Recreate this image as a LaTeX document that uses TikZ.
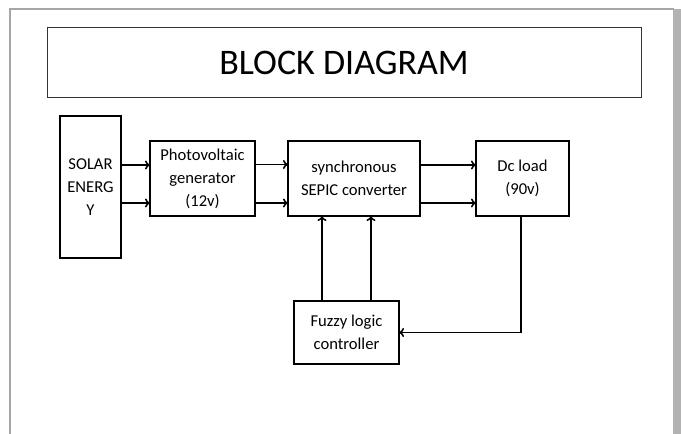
\documentclass[tikz,border=0pt]{standalone}
\usepackage{fontspec}
\setmainfont{Carlito}
\usepackage{tikz}
\usetikzlibrary{positioning, arrows.meta}
\tikzstyle{block} = [rectangle, draw=black, line width=1.6pt, inner sep=0pt, outer sep=0pt, text centered, align=center, font=\fontsize{16.6}{23}\selectfont]
\tikzstyle{titlebox} = [rectangle, draw=black!80, line width=0.8pt, inner sep=0pt, font=\fontsize{36}{40}\selectfont]
\tikzstyle{arrow} = [line width=1.6pt, -{To[length=5pt,width=9pt]}]

\begin{document}
\begin{tikzpicture}[x=1pt,y=-1pt]
		\useasboundingbox (0,0) rectangle (681,434);
		% page
		\fill[white] (0,0) rectangle (681,434);
		\fill[gray!60] (673,9) rectangle (681,434);
		\draw[gray!70, line width=1.2pt] (10,440) -- (10,9) -- (674,9);
		\node (title) [titlebox, minimum width=594pt, minimum height=70pt] at (344,62.5) {BLOCK DIAGRAM};
		\node (solar) [block, minimum width=61pt, minimum height=142pt] at (90.5,187) {SOLAR\\ENERG\\Y};
		\node (pv) [block, minimum width=105pt, minimum height=75pt, right=29pt of solar, yshift=8.5pt] {Photovoltaic\\generator\\(12v)};
		\node (sepic) [block, minimum width=132pt, minimum height=75pt, right=33pt of pv] {synchronous\\SEPIC converter};
		\node (dc) [block, minimum width=93pt, minimum height=75pt, right=56pt of sepic] {Dc load\\(90v)};
		\node (fuzzy) [block, minimum width=105pt, minimum height=63pt, below=85pt of sepic, xshift=-7.5pt] {Fuzzy logic\\controller};
		\draw [arrow] ([yshift=22pt]solar.east) -- ([yshift=13.5pt]pv.west);
		\draw [arrow] ([yshift=-16pt]solar.east) -- ([yshift=-24.5pt]pv.west);
		\draw [arrow] ([yshift=14pt]pv.east) -- ([yshift=14pt]sepic.west);
		\draw [arrow] ([yshift=-24.5pt]pv.east) -- ([yshift=-24.5pt]sepic.west);
		\draw [arrow] ([yshift=13.5pt]sepic.east) -- ([yshift=13.5pt]dc.west);
		\draw [arrow] ([yshift=-24.5pt]sepic.east) -- ([yshift=-24.5pt]dc.west);
		\draw [arrow] ([xshift=-24.5pt]fuzzy.north) -- ([xshift=-32pt]sepic.south);
		\draw [arrow] ([xshift=24.5pt]fuzzy.north) -- ([xshift=17pt]sepic.south);
		\draw [arrow] ([xshift=-1.5pt]dc.south) |- (fuzzy.east);
	\end{tikzpicture}
\end{document}
